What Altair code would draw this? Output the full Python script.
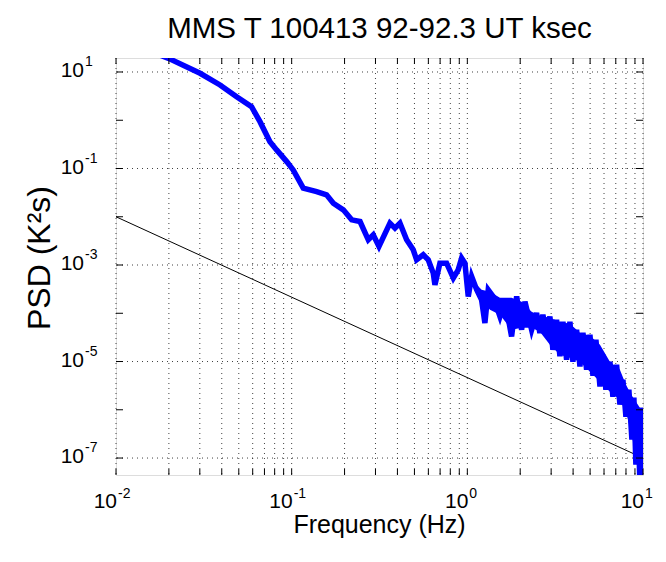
import altair as alt
import pandas as pd

title_text = "MMS T 100413 92-92.3 UT ksec"
x_title = "Frequency (Hz)"
y_title = "PSD (K²s)"

# measured PSD curve (frequency in Hz, PSD in K^2 s)
freq = [0.0137, 0.0199, 0.0301, 0.0391, 0.0486, 0.0591, 0.0660, 0.0752, 0.0821, 0.0937,
        0.102, 0.1164, 0.1387, 0.158, 0.1726, 0.1968, 0.2196, 0.245, 0.273, 0.2914,
        0.314, 0.3626, 0.3873, 0.4135, 0.4513, 0.492, 0.5144, 0.561, 0.599, 0.6397,
        0.654, 0.698, 0.762, 0.832, 0.887, 0.928, 0.969, 1.012, 1.058, 1.130,
        1.205, 1.259, 1.315, 1.403, 1.533, 1.637, 1.786, 1.909, 2.037, 2.128,
        2.323, 2.478, 2.588, 2.692, 2.838, 2.951, 3.069, 3.221, 3.365, 3.50,
        3.673, 3.837, 3.99, 4.188, 4.375, 4.55, 4.775, 4.989, 5.19, 5.395,
        5.69, 5.916, 6.15, 6.48, 6.74, 7.075, 7.389, 7.685, 7.993, 8.31,
        8.646, 8.874, 9.11, 9.354, 9.60, 9.855, 10.0]
psd = [32.1, 19.2, 9.40, 5.38, 3.08, 1.91, 0.935, 0.360, 0.243, 0.139,
       0.0935, 0.0391, 0.0333, 0.0284, 0.0191, 0.0139, 0.00863, 0.00796, 0.00333, 0.00422,
       0.00242, 0.00737, 0.00581, 0.00737, 0.00333, 0.00207, 0.00128, 0.00163, 0.00128, 0.000679,
       0.000389, 0.00109, 0.00109, 0.000536, 0.000796, 0.00139, 0.00109, 0.000223, 0.000578, 0.000307,
       0.000191, 6.27e-5, 0.000307, 0.000223, 8.59e-5, 0.000191, 3.31e-5, 0.000223, 4.55e-5, 0.000175,
       4.55e-5, 0.000101, 3.89e-5, 9.31e-5, 3.59e-5, 8.59e-5, 1.75e-5, 7.33e-5, 1.28e-5, 6.67e-5,
       1.09e-5, 6.67e-5, 9.9e-6, 4.55e-5, 7.92e-6, 3.94e-5, 6.76e-6, 3.59e-5, 5.08e-6, 2.83e-5,
       3.05e-6, 1.38e-5, 2.61e-6, 9.9e-6, 1.87e-6, 8.59e-6, 1.28e-6, 4.2e-6, 7.19e-7, 2.61e-6,
       2.4e-7, 1.78e-6, 7.3e-8, 1.1e-6, 2.81e-8, 1.1e-6, 2.22e-8]

# inner envelope of the dense high-frequency part of the curve
band_f = [1.062, 1.206, 1.345, 1.533, 1.786, 2.037, 2.323, 2.588, 2.951, 3.365, 3.837,
          4.375, 4.989, 5.69, 6.48, 7.389, 7.993, 8.646, 9.11, 9.60, 10.0]
band_hi = [4.94e-4, 3.07e-4, 2.79e-4, 2.09e-4, 2.09e-4, 1.73e-4, 1.07e-4, 8.87e-5, 8.07e-5,
           6.67e-5, 6.07e-5, 3.94e-5, 3.42e-5, 2.23e-5, 9.9e-6, 6.76e-6, 3.31e-6, 1.96e-6,
           1.47e-6, 1.10e-6, 1.10e-6]
band_lo = [3.89e-4, 1.91e-4, 1.18e-4, 9.31e-5, 4.55e-5, 5.01e-5, 5.01e-5, 4.14e-5, 2.23e-5,
           1.38e-5, 1.20e-5, 9.9e-6, 6.15e-6, 3.82e-6, 2.37e-6, 1.62e-6, 9.14e-7, 3.05e-7,
           9.27e-8, 3.57e-8, 2.22e-8]

# reference power-law line (f^-5/3)
ref_freq = [0.01, 10.0]
ref_psd = [1e-2, 1e-7]

# axis ticks
x_major = [0.01, 0.1, 1.0, 10.0]
x_exp = ["-2", "-1", "0", "1"]
x_minor = [0.01, 0.02, 0.03, 0.04, 0.05, 0.06, 0.07, 0.08, 0.09,
           0.1, 0.2, 0.3, 0.4, 0.5, 0.6, 0.7, 0.8, 0.9,
           1.0, 2.0, 3.0, 4.0, 5.0, 6.0, 7.0, 8.0, 9.0, 10.0]
y_ticks = [10.0, 1.0, 0.1, 1e-2, 1e-3, 1e-4, 1e-5, 1e-6, 1e-7]
y_labeled = [10.0, 0.1, 1e-3, 1e-5, 1e-7]
y_exp = ["1", "-1", "-3", "-5", "-7"]

W, H = 527, 417
FONT = "Liberation Sans"
BLUE = "#0000ff"
xs = alt.Scale(type="log", domain=[0.01, 10], nice=False)
ys = alt.Scale(type="log", domain=[4.45e-8, 19.5], nice=False)

curve = pd.DataFrame({"f": freq, "p": psd})
band = pd.DataFrame({"f": band_f, "p": band_hi, "p2": band_lo})
ref = pd.DataFrame({"f": ref_freq, "p": ref_psd})
xg = pd.DataFrame({"f": x_minor})
yg = pd.DataFrame({"p": y_labeled})
yt = pd.DataFrame({"p": y_ticks})
xl = pd.DataFrame({"f": x_major, "e": x_exp, "b": ["10"] * 4})
yl = pd.DataFrame({"p": y_labeled, "e": y_exp, "b": ["10"] * 5})

X = alt.X("f:Q", scale=xs, axis=None)
Y = alt.Y("p:Q", scale=ys, axis=None)

grid_style = dict(color="#000000", strokeDash=[1, 4], strokeWidth=1, opacity=0.75)
xgrid = alt.Chart(xg).mark_rule(**grid_style).encode(x=X)
ygrid = alt.Chart(yg).mark_rule(**grid_style).encode(y=Y)

tick_style = dict(color="#000000", strokeWidth=1)
xt_bot = alt.Chart(xg).mark_rule(**tick_style).encode(x=X, y=alt.value(H), y2=alt.value(H - 6))
xt_top = alt.Chart(xg).mark_rule(**tick_style).encode(x=X, y=alt.value(0), y2=alt.value(6))
yt_left = alt.Chart(yt).mark_rule(**tick_style).encode(y=Y, x=alt.value(0), x2=alt.value(7))
yt_right = alt.Chart(yt).mark_rule(**tick_style).encode(y=Y, x=alt.value(W), x2=alt.value(W - 7))

ref_line = alt.Chart(ref).mark_line(color="#000000", strokeWidth=1, clip=True).encode(x=X, y=Y)
band_area = alt.Chart(band).mark_area(color=BLUE, opacity=1, clip=True).encode(
    x=X, y=Y, y2=alt.Y2("p2:Q"))
psd_line = alt.Chart(curve).mark_line(color=BLUE, strokeWidth=5.5, clip=True,
                                      strokeJoin="miter").encode(x=X, y=Y)

xlab_b = alt.Chart(xl).mark_text(font=FONT, fontSize=21, align="right", baseline="alphabetic",
                                 dx=1, color="black").encode(x=X, y=alt.value(H + 33), text="b:N")
xlab_e = alt.Chart(xl).mark_text(font=FONT, fontSize=14, align="left", baseline="alphabetic",
                                 dx=2, color="black").encode(x=X, y=alt.value(H + 23), text="e:N")
ylab_b = alt.Chart(yl).mark_text(font=FONT, fontSize=21, align="right", baseline="alphabetic",
                                 dy=5, color="black").encode(y=Y, x=alt.value(-32), text="b:N")
ylab_e = alt.Chart(yl).mark_text(font=FONT, fontSize=14, align="left", baseline="alphabetic",
                                 dy=-6, color="black").encode(y=Y, x=alt.value(-31), text="e:N")

ttl = alt.Chart(pd.DataFrame({"t": [title_text]})).mark_text(
    font=FONT, fontSize=29.5, align="center", baseline="alphabetic", color="black"
).encode(x=alt.value(W / 2), y=alt.value(-20), text="t:N")
xttl = alt.Chart(pd.DataFrame({"t": [x_title]})).mark_text(
    font=FONT, fontSize=25, align="center", baseline="alphabetic", color="black"
).encode(x=alt.value(W / 2), y=alt.value(H + 58), text="t:N")
yttl = alt.Chart(pd.DataFrame({"t": [y_title]})).mark_text(
    font=FONT, fontSize=32, align="center", baseline="alphabetic", angle=270, color="black"
).encode(x=alt.value(-66), y=alt.value(200), text="t:N")

chart = alt.layer(
    xgrid, ygrid, ref_line, band_area, psd_line, xt_bot, xt_top, yt_left, yt_right,
    xlab_b, xlab_e, ylab_b, ylab_e, ttl, xttl, yttl
).properties(
    width=W, height=H,
    autosize=alt.AutoSizeParams(type="none"),
    padding={"left": 116, "top": 58, "right": 23, "bottom": 87},
).configure_view(stroke="#000000", strokeWidth=1).configure(background="white")

chart.save("out.html", embed_options={"renderer": "svg", "actions": False})
